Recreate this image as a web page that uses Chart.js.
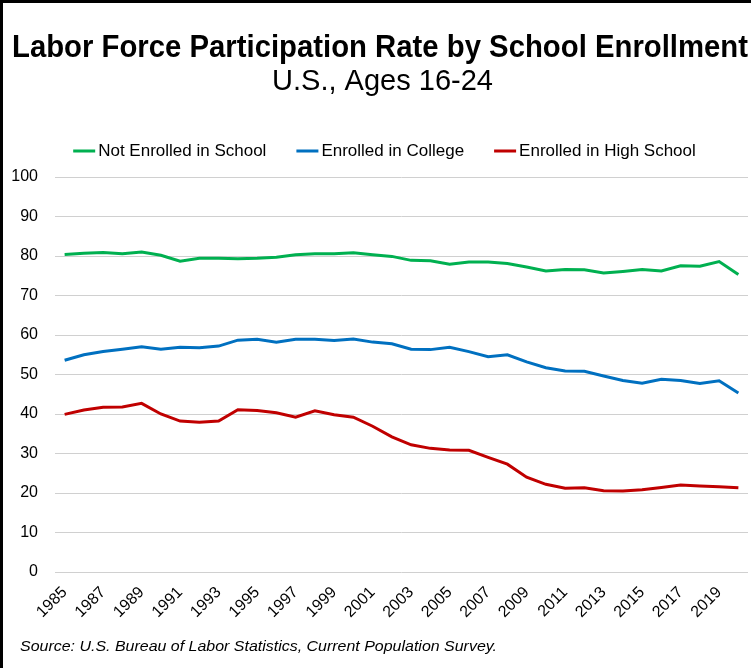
<!DOCTYPE html>
<html>
<head>
<meta charset="utf-8">
<script src="https://cdn.jsdelivr.net/npm/chart.js@4/dist/chart.umd.min.js"></script>
<style>
  html, body { margin: 0; padding: 0; background: #fff; }
  #wrap { width: 754px; height: 668px; position: relative; }
</style>
</head>
<body>
<div id="wrap"><canvas id="chart"></canvas></div>
<script>
const years = ['1985','1986','1987','1988','1989','1990','1991','1992','1993','1994','1995','1996',
  '1997','1998','1999','2000','2001','2002','2003','2004','2005','2006','2007','2008',
  '2009','2010','2011','2012','2013','2014','2015','2016','2017','2018','2019','2020'];

const notEnrolled = [80.4,80.7,80.9,80.6,81.0,80.2,78.7,79.4,79.4,79.3,79.4,79.7,
  80.3,80.6,80.6,80.8,80.3,79.9,78.9,78.8,77.9,78.5,78.5,78.1,
  77.2,76.2,76.6,76.5,75.7,76.1,76.6,76.2,77.5,77.4,78.6,75.3];

const college = [53.6,55.0,55.8,56.4,57.0,56.4,56.9,56.8,57.2,58.7,58.9,58.2,
  58.9,58.9,58.6,59.0,58.2,57.8,56.4,56.3,56.9,55.8,54.5,55.0,
  53.2,51.7,50.9,50.8,49.6,48.5,47.8,48.8,48.5,47.7,48.4,45.3];

const highSchool = [39.9,41.0,41.7,41.8,42.7,40.0,38.2,37.9,38.2,41.1,40.9,40.3,
  39.2,40.8,39.8,39.2,36.9,34.2,32.2,31.3,30.9,30.8,29.0,27.3,
  24.0,22.2,21.2,21.3,20.6,20.5,20.8,21.4,22.0,21.8,21.6,21.3];

const FONT = "'Liberation Sans', Arial, sans-serif";

// text squeezed to a given width (the reference title is condensed)
function fitText(ctx, text, x, y, font, width, align) {
  ctx.save();
  ctx.font = font;
  const w = ctx.measureText(text).width;
  let left = align === 'center' ? x - width / 2 : x;
  ctx.translate(left, y);
  ctx.scale(width / w, 1);
  ctx.textAlign = 'left';
  ctx.textBaseline = 'alphabetic';
  ctx.fillText(text, 0, 0);
  ctx.restore();
}

// frame, titles, legend row and source note
const decor = {
  id: 'decor',
  beforeDraw(chart) {
    const c = chart.ctx;
    c.save();
    c.fillStyle = '#fff';
    c.fillRect(0, 0, chart.width, chart.height);
    c.fillStyle = '#000';
    c.fillRect(0, 0, 3, chart.height);
    c.fillRect(0, 0, chart.width - 3, 3);
    c.restore();
  },
  afterDraw(chart) {
    const c = chart.ctx;
    c.save();
    c.fillStyle = '#000';
    fitText(c, 'Labor Force Participation Rate by School Enrollment', 380, 57, 'bold 31px ' + FONT, 736, 'center');
    fitText(c, 'U.S., Ages 16-24', 382.5, 90, '30px ' + FONT, 221, 'center');
    fitText(c, 'Source: U.S. Bureau of Labor Statistics, Current Population Survey.', 20, 651, 'italic 15px ' + FONT, 477, 'left');

    // legend
    c.font = '17px ' + FONT;
    c.textBaseline = 'middle';
    const sets = chart.data.datasets;
    const sw = 22, gapIn = 3, gapOut = 30;
    let total = 0;
    sets.forEach((d, i) => {
      total += sw + gapIn + c.measureText(d.label).width + (i < sets.length - 1 ? gapOut : 0);
    });
    let x = 384.5 - total / 2;
    const y = 151;
    sets.forEach(d => {
      c.fillStyle = d.borderColor;
      c.fillRect(x, y - 1.5, sw, 3);
      x += sw + gapIn;
      c.fillStyle = '#000';
      c.fillText(d.label, x, y);
      x += c.measureText(d.label).width + gapOut;
    });
    c.restore();
  }
};

const ctx = document.getElementById('chart').getContext('2d');
const chart = new Chart(ctx, {
  type: 'line',
  data: {
    labels: years,
    datasets: [{
      label: 'Not Enrolled in School',
      data: notEnrolled,
      borderColor: '#00B050',
      borderWidth: 3,
      pointRadius: 0,
      fill: false,
      tension: 0
    }, {
      label: 'Enrolled in College',
      data: college,
      borderColor: '#0070C0',
      borderWidth: 3,
      pointRadius: 0,
      fill: false,
      tension: 0
    }, {
      label: 'Enrolled in High School',
      data: highSchool,
      borderColor: '#C00000',
      borderWidth: 3,
      pointRadius: 0,
      fill: false,
      tension: 0
    }]
  },
  options: {
    responsive: true,
    maintainAspectRatio: false,
    animation: false,
    layout: { padding: { top: 177, left: 0, right: 6, bottom: 36 } },
    plugins: {
      title: { display: false },
      legend: { display: false },
      tooltip: { enabled: false }
    },
    scales: {
      x: {
        offset: true,
        grid: { display: false, drawTicks: false },
        border: { display: false },
        afterFit(scale) {
          scale.height = 60;
          scale.paddingLeft = 0;
          scale.paddingRight = 0;
        },
        ticks: {
          autoSkip: false,
          minRotation: 45,
          maxRotation: 45,
          padding: 11,
          color: '#000',
          font: { family: FONT, size: 16 },
          callback(value, index) {
            return index % 2 === 0 ? this.getLabelForValue(value) : '';
          }
        }
      },
      y: {
        min: 0,
        max: 100,
        grid: { color: '#d0d0d0', lineWidth: 1, drawTicks: false },
        border: { display: false },
        afterFit(scale) { scale.width = 55; },
        ticks: {
          stepSize: 10,
          padding: 17,
          color: '#000',
          font: { family: FONT, size: 16 }
        }
      }
    }
  },
  plugins: [decor]
});
</script>
</body>
</html>
